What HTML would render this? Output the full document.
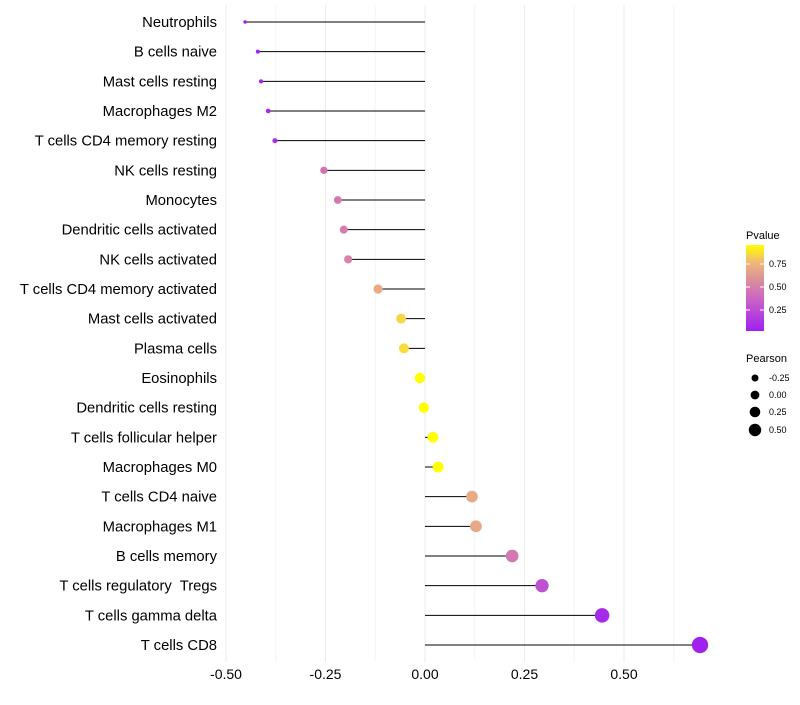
<!DOCTYPE html>
<html><head><meta charset="utf-8"><style>
body{margin:0;background:#fff;font-family:"Liberation Sans",sans-serif}
</style></head><body>
<svg id="chart" width="800" height="700" xmlns="http://www.w3.org/2000/svg" font-family="Liberation Sans, sans-serif">
<rect width="800" height="700" fill="#fff"/>
<g id="grid"></g><g id="marks"></g><g id="ylab"></g><g id="xlab"></g>
<g id="legend">
<defs><linearGradient id="pg" x1="0" y1="1" x2="0" y2="0">
<stop offset="0" stop-color="#a020f0"/><stop offset="0.35" stop-color="#c860c8"/><stop offset="0.6" stop-color="#dc909a"/><stop offset="0.8" stop-color="#f0b878"/><stop offset="1" stop-color="#ffff00"/></linearGradient></defs>
<text x="746" y="239" font-size="11">Pvalue</text>
<rect x="746" y="245" width="18" height="86" fill="url(#pg)"/>
<g stroke="#fff" stroke-width="1"><line x1="746" y1="264" x2="750" y2="264"/><line x1="760" y1="264" x2="764" y2="264"/><line x1="746" y1="287" x2="750" y2="287"/><line x1="760" y1="287" x2="764" y2="287"/><line x1="746" y1="310" x2="750" y2="310"/><line x1="760" y1="310" x2="764" y2="310"/></g>
<g font-size="9"><text x="769" y="267">0.75</text><text x="769" y="290">0.50</text><text x="769" y="313">0.25</text></g>
<text x="746" y="362" font-size="11">Pearson</text>
<circle cx="755" cy="378" r="3.5"/><circle cx="755" cy="395" r="4.4"/><circle cx="755" cy="412" r="5.3"/><circle cx="755" cy="430" r="6.2"/>
<g font-size="9"><text x="769" y="381">-0.25</text><text x="769" y="398">0.00</text><text x="769" y="415">0.25</text><text x="769" y="433">0.50</text></g>
</g>
</svg>
<script>
const categories=["Neutrophils","B cells naive","Mast cells resting","Macrophages M2","T cells CD4 memory resting","NK cells resting","Monocytes","Dendritic cells activated","NK cells activated","T cells CD4 memory activated","Mast cells activated","Plasma cells","Eosinophils","Dendritic cells resting","T cells follicular helper","Macrophages M0","T cells CD4 naive","Macrophages M1","B cells memory","T cells regulatory  Tregs","T cells gamma delta","T cells CD8"];
const pearson=[-0.452,-0.420,-0.412,-0.394,-0.377,-0.254,-0.219,-0.204,-0.193,-0.118,-0.060,-0.053,-0.013,-0.003,0.020,0.033,0.118,0.128,0.219,0.294,0.445,0.691];
const pvalues=[0.01,0.03,0.04,0.06,0.08,0.42,0.45,0.47,0.5,0.68,0.82,0.84,0.95,0.96,0.97,0.95,0.68,0.67,0.45,0.25,0.06,0.001];
const xTicks=[-0.5,-0.25,0,0.25,0.5];
const xTickLabels=["-0.50","-0.25","0.00","0.25","0.50"];
const NS="http://www.w3.org/2000/svg";
const x=v=>425+v*398;
const y=i=>22+i*(645-22)/(categories.length-1);
const rad=v=>1.12*Math.sqrt(Math.max(2.5,10.9+(v+0.25)*44.7));
const stops=[[0,[160,32,240]],[0.35,[200,96,200]],[0.6,[220,144,154]],[0.8,[240,184,120]],[1,[255,255,0]]];
function col(p){const t=Math.min(1,Math.max(0,(p-0.01)/0.92));for(let k=1;k<stops.length;k++){if(t<=stops[k][0]){const a=stops[k-1],b=stops[k];const f=(t-a[0])/(b[0]-a[0]);return "rgb("+a[1].map((c,j)=>Math.round(c+(b[1][j]-c)*f)).join(",")+")";}}return "rgb(255,255,0)";}
function mk(t,a,p){const e=document.createElementNS(NS,t);for(const k in a)e.setAttribute(k,a[k]);p.appendChild(e);return e;}
const G=document.getElementById('grid'),M=document.getElementById('marks'),YL=document.getElementById('ylab'),XL=document.getElementById('xlab');
for(let k=0;k<10;k++){const v=-0.5+k*0.125;const l=mk('line',{x1:x(v),x2:x(v),y1:5,y2:662,stroke:k%2?'#f3f3f3':'#ebebeb','stroke-width':1},G);

}
xTicks.forEach((v,i)=>{const t=mk('text',{x:x(v),y:679,'font-size':14,'text-anchor':'middle',fill:'#000'},XL);t.textContent=xTickLabels[i];

});
categories.forEach((c,i)=>{
const t=mk('text',{x:217,y:y(i)+5,'font-size':14.8,'text-anchor':'end',fill:'#000',style:'white-space:pre'},YL);t.textContent=c;


const l=mk('line',{x1:x(0),x2:x(pearson[i]),y1:y(i),y2:y(i),stroke:'#000','stroke-width':1},M);


const d=mk('circle',{cx:x(pearson[i]),cy:y(i),r:rad(pearson[i]),fill:col(pvalues[i])},M);


});
</script>
</body></html>
